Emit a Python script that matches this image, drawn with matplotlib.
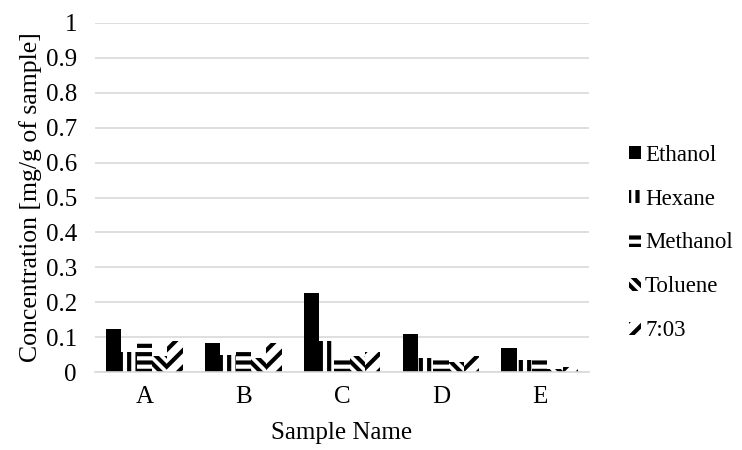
import matplotlib.pyplot as plt
import numpy as np

plt.rcParams["font.family"] = ["Liberation Serif", "DejaVu Serif"]
plt.rcParams["hatch.linewidth"] = 3.0
plt.rcParams["hatch.color"] = "black"

samples = ["A", "B", "C", "D", "E"]
ethanol = [0.123, 0.083, 0.226, 0.109, 0.069]
hexane = [0.057, 0.049, 0.089, 0.040, 0.034]
methanol = [0.086, 0.063, 0.040, 0.040, 0.037]
toluene = [0.045, 0.040, 0.045, 0.030, 0.010]
solvent_703 = [0.088, 0.083, 0.057, 0.047, 0.015]

series = [("Ethanol", ethanol, None),
          ("Hexane", hexane, "||"),
          ("Methanol", methanol, "--"),
          ("Toluene", toluene, "\\\\\\"),
          ("7:03", solvent_703, "//")]

fig = plt.figure(figsize=(7.42, 4.5), dpi=100)
ax = fig.add_axes([0.128, 0.173, 0.666, 0.776])

x = np.arange(len(samples))
w = 0.155
for i, (name, vals, hatch) in enumerate(series):
    pos = x + (i - 2) * w
    if hatch is None:
        ax.bar(pos, vals, w, color="black", label=name)
    else:
        ax.bar(pos, vals, w, color="white", edgecolor="black", hatch=hatch,
               linewidth=0, label=name)

ax.set_ylim(0, 1)
ax.set_xlim(-0.5, 4.5)
ax.set_yticks(np.arange(0, 1.01, 0.1))
ax.set_yticklabels(["0", "0.1", "0.2", "0.3", "0.4", "0.5", "0.6", "0.7", "0.8", "0.9", "1"])
ax.set_xticks(x)
ax.set_xticklabels(samples)
ax.yaxis.grid(True, color="#d9d9d9", linewidth=1.2)
ax.set_axisbelow(True)
for s in ["top", "right", "left"]:
    ax.spines[s].set_visible(False)
ax.spines["bottom"].set_color("#d9d9d9")
ax.spines["bottom"].set_linewidth(1.2)
ax.tick_params(axis="y", length=0, labelsize=18, pad=13)
ax.tick_params(axis="x", length=0, labelsize=18, pad=10)

ax.set_xlabel("Sample Name", fontsize=18, labelpad=10)
ax.set_ylabel("Concentration [mg/g of sample]", fontsize=18.5, labelpad=3)

fig.legend(loc="center left", bbox_to_anchor=(0.82, 0.46), frameon=False,
           fontsize=16.5, handlelength=0.5, handleheight=0.5, handletextpad=0.2,
           labelspacing=1.0)

plt.savefig("out.png", dpi=100)
